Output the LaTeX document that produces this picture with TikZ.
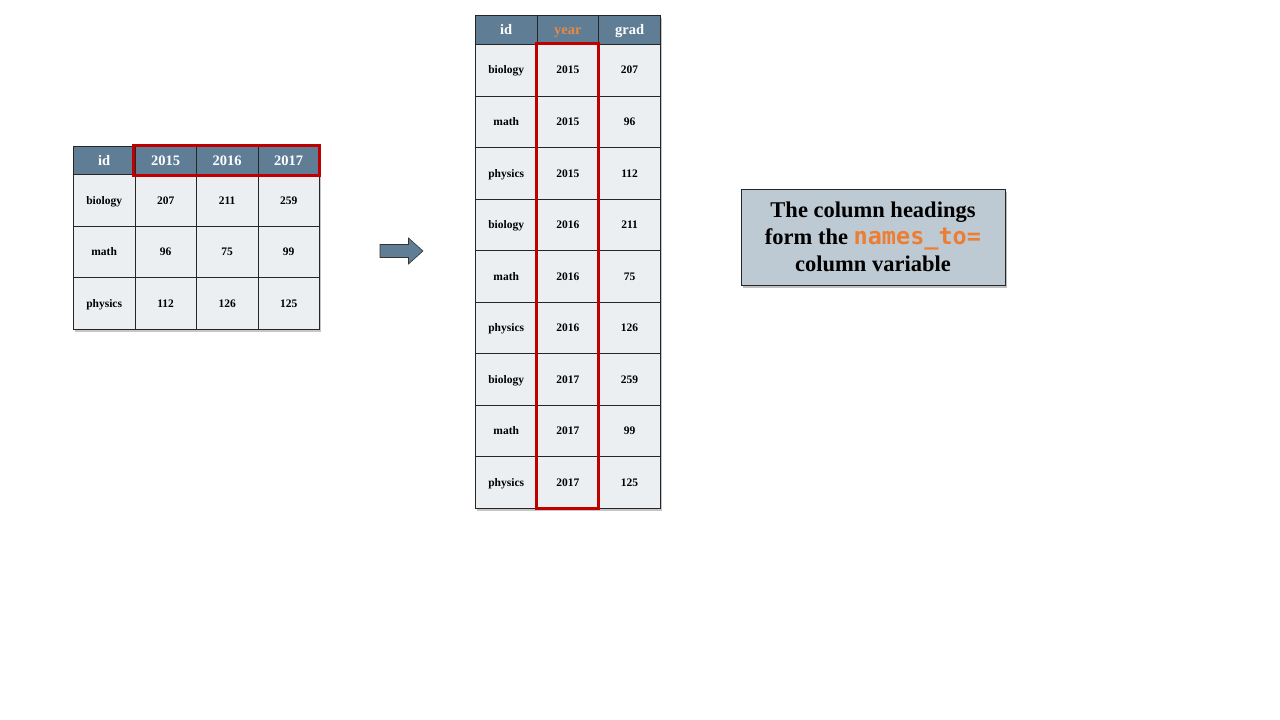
\documentclass[tikz,border=0pt]{standalone}
\usepackage{fontspec}
\setmainfont{Liberation Serif}
\newfontfamily\codefont{DejaVu Sans Mono}
\usetikzlibrary{shadows}
\definecolor{hdrfill}{HTML}{5F7D95}
\definecolor{cellfill}{HTML}{ECEFF2}
\definecolor{boxfill}{HTML}{BDCAD3}
\definecolor{hiRed}{HTML}{C00000}
\definecolor{hiOrange}{HTML}{ED7D31}
\definecolor{yearOrange}{HTML}{E58A45}
\tikzset{
  cellbox/.style={draw=black!85, line width=0.8pt, fill=cellfill, inner sep=0pt, anchor=north west,
    text height=7.6pt, text depth=0pt,
    font=\bfseries\fontsize{11.5}{12}\selectfont},
  hdrbox/.style={draw=black!85, line width=0.8pt, fill=hdrfill, inner sep=0pt, anchor=north west,
    text height=9.6pt, text depth=0pt,
    text=white, font=\bfseries\fontsize{14.5}{15}\selectfont},
  redframe/.style={draw=hiRed, line width=3pt},
  tshadow/.style={fill=white, drop shadow={opacity=0.45, shadow xshift=2pt, shadow yshift=-2.5pt}},
}
\begin{document}
\begin{tikzpicture}[x=1pt,y=-1pt]
\useasboundingbox (0,0) rectangle (1280,720);
% ---------- left table ----------
\path[tshadow] (73,146) rectangle (319,329);
\foreach \c/\t in {0/id,1/2015,2/2016,3/2017}{
  \node[hdrbox, minimum width=61.5pt, minimum height=28pt] (L-0-\c) at ({73+61.5*\c},146) {\t};
}
\foreach \r/\a/\b/\cc/\d in {1/biology/207/211/259, 2/math/96/75/99, 3/physics/112/126/125}{
  \node[cellbox, minimum width=61.5pt, minimum height=51.67pt] (L-\r-0) at (73,{174+51.67*(\r-1)}) {\a};
  \node[cellbox, minimum width=61.5pt, minimum height=51.67pt] (L-\r-1) at ({73+61.5},{174+51.67*(\r-1)}) {\b};
  \node[cellbox, minimum width=61.5pt, minimum height=51.67pt] (L-\r-2) at ({73+61.5*2},{174+51.67*(\r-1)}) {\cc};
  \node[cellbox, minimum width=61.5pt, minimum height=51.67pt] (L-\r-3) at ({73+61.5*3},{174+51.67*(\r-1)}) {\d};
}
\draw[redframe] ([xshift=-1pt,yshift=1pt]L-0-1.north west) rectangle ([xshift=0pt,yshift=-1pt]L-0-3.south east);
% ---------- arrow ----------
\draw[fill=hdrfill, draw=black!80, line width=0.6pt]
  (380,244.5) -- (408.5,244.5) -- (408.5,238) -- (423,251) -- (408.5,264) -- (408.5,257.5) -- (380,257.5) -- cycle;
% ---------- right table ----------
\path[tshadow] (475,15) rectangle (660,508);
\node[hdrbox, minimum width=61.67pt, minimum height=29pt] (R-0-0) at (475,15) {id};
\node[hdrbox, minimum width=61.67pt, minimum height=29pt, text=yearOrange] (R-0-1) at (536.67,15) {year};
\node[hdrbox, minimum width=61.67pt, minimum height=29pt] (R-0-2) at (598.33,15) {grad};
\foreach \r/\a/\b/\cc in {1/biology/2015/207, 2/math/2015/96, 3/physics/2015/112,
                          4/biology/2016/211, 5/math/2016/75, 6/physics/2016/126,
                          7/biology/2017/259, 8/math/2017/99, 9/physics/2017/125}{
  \node[cellbox, minimum width=61.67pt, minimum height=51.56pt] (R-\r-0) at (475,{44+51.56*(\r-1)}) {\a};
  \node[cellbox, minimum width=61.67pt, minimum height=51.56pt] (R-\r-1) at (536.67,{44+51.56*(\r-1)}) {\b};
  \node[cellbox, minimum width=61.67pt, minimum height=51.56pt] (R-\r-2) at (598.33,{44+51.56*(\r-1)}) {\cc};
}
\draw[redframe] ([xshift=0pt,yshift=1pt]R-1-1.north west) rectangle ([xshift=-1pt]R-9-1.south east);
% ---------- note box ----------
\node[draw=black!85, line width=0.8pt, fill=boxfill, minimum width=264pt, minimum height=96pt,
      inner sep=0pt, align=center, drop shadow={opacity=0.5, shadow xshift=2pt, shadow yshift=-3pt},
      font=\bfseries\fontsize{22.5}{27}\selectfont] (note) at (873,237)
  {The column headings\\form the {\codefont\fontsize{23.5}{27}\selectfont\color{hiOrange}names\_to=}\\column variable};
\end{tikzpicture}
\end{document}
